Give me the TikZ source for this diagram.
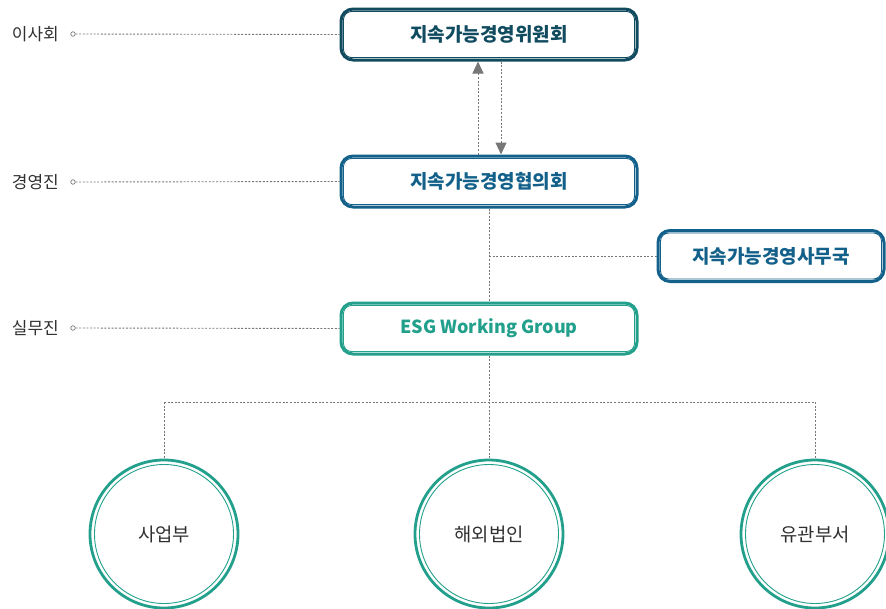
\documentclass[tikz,border=0pt]{standalone}
\usepackage{fontspec}
\setmainfont{Noto Sans CJK KR}
\usetikzlibrary{arrows.meta}
\definecolor{cNavy}{HTML}{104B5F}
\definecolor{cBlue}{HTML}{13618A}
\definecolor{cTeal}{HTML}{22A08C}
\definecolor{cGray}{HTML}{777777}
\definecolor{cText}{HTML}{303030}
\tikzset{
  boxbase/.style={draw, line width=3pt, rounded corners=12pt, fill=white,
    minimum width=296pt, minimum height=51pt, inner sep=0pt,
    font=\fontsize{19}{22}\selectfont\bfseries},
  innerline/.style={line width=0.9pt, rounded corners=8pt},
  circ/.style={circle, draw=cTeal, line width=2.8pt, minimum size=148pt, inner sep=0pt,
    text=cText, font=\fontsize{18.8}{22}\selectfont},
  lab/.style={anchor=east, text=cText, font=\fontsize{17}{20}\selectfont, inner sep=0pt},
  dotc/.style={circle, draw=cGray, line width=0.7pt, minimum size=4.5pt, inner sep=0pt, fill=white},
  dline/.style={draw=cGray, line width=0.9pt, dash pattern=on 2pt off 1.6pt},
  arr/.style={draw=cGray, line width=1pt, dash pattern=on 2pt off 1.6pt,
    -{Triangle[width=11pt,length=12pt,fill=cGray,color=cGray]}}
}
\begin{document}
\begin{tikzpicture}[x=1pt,y=-1pt]
\useasboundingbox (0,0) rectangle (886,608);
% boxes
\node[boxbase, draw=cNavy, text=cNavy] (b1) at (489,34.5) {지속가능경영위원회};
\node[boxbase, draw=cBlue, text=cBlue] (b2) at (489,181.5) {지속가능경영협의회};
\node[boxbase, draw=cBlue, text=cBlue, minimum width=226pt] (b3) at (771,256) {지속가능경영사무국};
\node[boxbase, draw=cTeal, text=cTeal, font=\fontsize{18}{22}\selectfont\bfseries] (b4) at (489,328.5) {ESG Working Group};
\foreach \n/\c in {b1/cNavy,b2/cBlue,b3/cBlue,b4/cTeal}{
  \draw[innerline, draw=\c] ([shift={(4pt,-4pt)}]\n.north west) rectangle ([shift={(-4pt,4pt)}]\n.south east);
}
% circles
\node[circ] (c1) at (164,534) {사업부};
\node[circ] (c2) at (489,534) {해외법인};
\node[circ] (c3) at (815,534) {유관부서};
\foreach \n in {c1,c2,c3}{
  \draw[cTeal, line width=0.9pt] (\n.center) circle (69.5);
}
% left labels
\node[lab] (l1) at (59,34) {이사회};
\node[lab] (l2) at (59,182) {경영진};
\node[lab] (l3) at (59,328) {실무진};
\node[dotc] (d1) at (73,34) {};
\node[dotc] (d2) at (73,182) {};
\node[dotc] (d3) at (73,328) {};
\draw[dline] (d1.east) -- (b1.west);
\draw[dline] (d2.east) -- (b2.west);
\draw[dline] (d3.east) -- (b4.west);
% arrows between committees
\draw[arr] ([xshift=-11pt]b2.north) -- ([xshift=-11pt]b1.south);
\draw[arr] ([xshift=12pt]b1.south) -- ([xshift=12pt]b2.north);
% connectors
\coordinate (j1) at (489,256);
\coordinate (jl) at (164,402);
\coordinate (jr) at (815,402);
\draw[dline] (b2.south) -- (b4.north);
\draw[dline] (j1) -- (b3.west);
\draw[dline] (b4.south) -- (c2.north);
\draw[dline] (jl) -- (jr);
\draw[dline] (jl) -- (c1.north);
\draw[dline] (jr) -- (c3.north);
\end{tikzpicture}
\end{document}
